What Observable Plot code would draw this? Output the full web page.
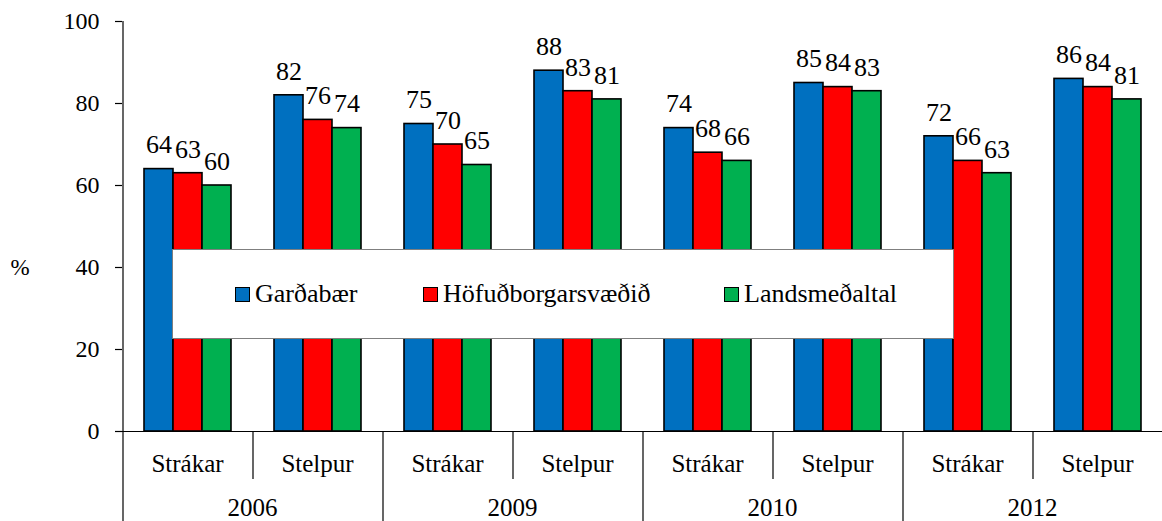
<!DOCTYPE html>
<html>
<head>
<meta charset="utf-8">
<script src="https://cdn.jsdelivr.net/npm/d3@7"></script>
<script src="https://cdn.jsdelivr.net/npm/@observablehq/plot@0.6"></script>
</head>
<body style="margin:0;background:white;font-family:serif">
<div id="wrap" style="position:relative;width:1162px;height:521px;font-family:serif"></div>
<script>
const years = ["2006", "2009", "2010", "2012"];
const genders = ["Strákar", "Stelpur"];
const series = ["Garðabær", "Höfuðborgarsvæðið", "Landsmeðaltal"];
const colors = ["#0070C0", "#FF0000", "#00B050"];
// values per group in order: 2006 Strákar, 2006 Stelpur, 2009 Strákar, ...
const gardabaer = [64, 82, 75, 88, 74, 85, 72, 86];
const hofudborg = [63, 76, 70, 83, 68, 84, 66, 84];
const landsmedaltal = [60, 74, 65, 81, 66, 83, 63, 81];
const yTicks = [0, 20, 40, 60, 80, 100];

const groups = years.flatMap(year => genders.map(gender => ({year, gender, key: year + " " + gender})));
const keys = groups.map(g => g.key);
const valueLists = [gardabaer, hofudborg, landsmedaltal];
const rows = groups.flatMap((g, i) => series.map((s, j) => ({key: g.key, series: s, value: valueLists[j][i]})));

const FONT = "serif";
const ML = 122, MT = 21, MB = 90, H = 521;
const pxPerUnit = (H - MT - MB) / 100;
const genderDepth = 48 / pxPerUnit;
const yearDepth = 90 / pxPerUnit;
const ruleDx = -36;

const chart = Plot.plot({
  width: 1162,
  height: H,
  marginLeft: ML,
  marginRight: 0,
  marginTop: MT,
  marginBottom: MB,
  fx: {domain: keys, padding: 0, axis: null},
  x: {domain: series, paddingInner: 0, paddingOuter: 0.74, axis: null},
  y: {domain: [0, 100], axis: null},
  color: {domain: series, range: colors},
  style: {fontFamily: FONT, fontSize: "24px", color: "black", background: "white", overflow: "visible"},
  marks: [
    Plot.barY(rows, {fx: "key", x: "series", y: "value", fill: "series", stroke: "black", strokeWidth: 1.6}),
    Plot.text(rows, {fx: "key", x: "series", y: "value", text: d => String(d.value), dy: -24, lineAnchor: "middle", fontSize: 26, fontFamily: FONT, fill: "black"}),
    Plot.ruleY([0], {stroke: "black", strokeWidth: 1.2}),
    Plot.ruleX([groups[0]], {fx: "key", x: () => series[0], dx: ruleDx, y1: 100, y2: 0, stroke: "black", strokeWidth: 1.2}),
    Plot.ruleX(groups, {fx: "key", x: () => series[0], dx: ruleDx, y1: 0, y2: d => d.gender === genders[0] ? -yearDepth : -genderDepth, stroke: "black", strokeWidth: 1.2}),
    Plot.axisY(yTicks, {tickSize: 7, tickPadding: 16, fontSize: 24, fontFamily: FONT, label: null, stroke: "black", strokeWidth: 1.2}),
    Plot.text(groups, {fx: "key", text: "gender", frameAnchor: "bottom", dy: 32, lineAnchor: "middle", fontSize: 25, fontFamily: FONT, fill: "black"}),
    Plot.text(groups.filter(g => g.gender === genders[0]), {fx: "key", text: "year", frameAnchor: "bottom-right", dy: 76, textAnchor: "middle", lineAnchor: "middle", fontSize: 25, fontFamily: FONT, fill: "black"}),
    Plot.text([40], {fx: () => keys[0], y: d => d, text: () => "%", frameAnchor: "left", dx: -112, textAnchor: "start", lineAnchor: "middle", fontSize: 23, fontFamily: FONT, fill: "black"})
  ]
});

const wrap = document.getElementById("wrap");
wrap.appendChild(chart);

// legend box drawn over the plot, as in the reference
const legend = document.createElement("div");
Object.assign(legend.style, {position: "absolute", left: "172px", top: "249px", width: "780px", height: "88px", background: "white", border: "1px solid #7f7f7f", fontFamily: FONT});
const itemLeft = [62, 250, 551];
series.forEach((s, i) => {
  const it = document.createElement("div");
  Object.assign(it.style, {position: "absolute", left: itemLeft[i] + "px", top: "0px", height: "88px", display: "flex", alignItems: "center", fontSize: "26px", color: "black", whiteSpace: "nowrap", fontFamily: FONT});
  const sw = document.createElement("div");
  Object.assign(sw.style, {width: "13px", height: "13px", border: "1.5px solid black", marginRight: "5px", marginTop: "1px", background: colors[i]});
  it.appendChild(sw);
  const t = document.createElement("span");
  t.textContent = s;
  t.style.fontFamily = FONT;
  it.appendChild(t);
  legend.appendChild(it);
});
wrap.appendChild(legend);
</script>
</body>
</html>
